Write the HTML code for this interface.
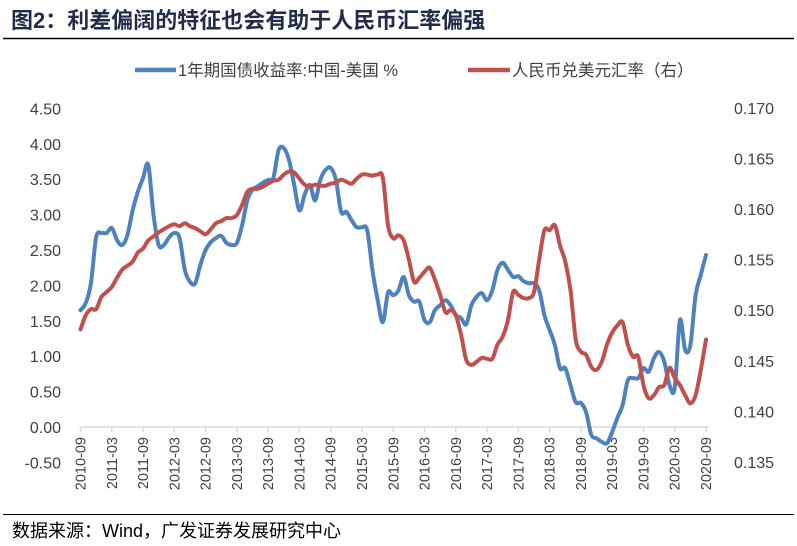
<!DOCTYPE html>
<html><head><meta charset="utf-8"><style>
body{margin:0;background:#fff;}
svg{display:block;font-family:"Liberation Sans","Noto Sans CJK SC",sans-serif;}
</style></head><body>
<svg id="chart" width="797" height="546" viewBox="0 0 797 546">
<text x="11" y="28" font-size="22" font-weight="bold" fill="#1f2d4a">图2：利差偏阔的特征也会有助于人民币汇率偏强</text>
<line x1="3" y1="38.5" x2="794" y2="38.5" stroke="#000" stroke-width="1.5"/>
<g>
<g><line x1="135" y1="70" x2="176" y2="70" stroke="#4f81bd" stroke-width="4.5"/><text x="178" y="76" font-size="16.5" fill="#404040">1年期国债收益率:中国-美国 %</text></g>
<g><line x1="468" y1="70" x2="510" y2="70" stroke="#c0504d" stroke-width="4.5"/><text x="512" y="76" font-size="16.5" fill="#404040">人民币兑美元汇率（右）</text></g>
</g>
<g id="axes"></g>
<g id="series"></g>
<line x1="3" y1="514.5" x2="794" y2="514.5" stroke="#000" stroke-width="1"/>
<text x="12" y="537" font-size="18" fill="#000">数据来源：Wind，广发证券发展研究中心</text>
</svg>
<script>
const xTickLabels=["2010-09","2011-03","2011-09","2012-03","2012-09","2013-03","2013-09","2014-03","2014-09","2015-03","2015-09","2016-03","2016-09","2017-03","2017-09","2018-03","2018-09","2019-03","2019-09","2020-03","2020-09"];
const leftTicks=[4.5,4,3.5,3,2.5,2,1.5,1,0.5,0,-0.5];
const rightTicks=[0.170,0.165,0.160,0.155,0.150,0.145,0.140,0.135];
const spreadValues=[1.65,1.75,2.03,2.68,2.74,2.74,2.81,2.64,2.57,2.71,3.06,3.32,3.52,3.70,3.0,2.57,2.57,2.68,2.74,2.67,2.22,2.05,2.03,2.29,2.5,2.61,2.67,2.7,2.6,2.57,2.6,2.85,3.2,3.35,3.4,3.45,3.49,3.52,3.91,3.94,3.77,3.42,3.06,3.28,3.42,3.2,3.49,3.63,3.66,3.49,3.04,3.04,2.92,2.82,2.82,2.78,2.22,1.8,1.48,1.9,1.86,1.93,2.12,1.86,1.77,1.77,1.51,1.48,1.65,1.72,1.79,1.72,1.58,1.54,1.45,1.72,1.84,1.89,1.79,1.93,2.22,2.32,2.22,2.12,2.13,2.06,2.03,2.03,1.93,1.58,1.37,1.16,0.83,0.83,0.59,0.35,0.34,0.21,-0.11,-0.16,-0.21,-0.23,-0.07,0.13,0.31,0.66,0.69,0.69,0.83,0.78,0.97,1.06,0.92,0.59,0.55,1.51,1.09,1.16,1.86,2.15,2.43];
const fxValues=[0.1481,0.1495,0.1501,0.1501,0.1513,0.1518,0.1523,0.1532,0.154,0.1544,0.1548,0.1557,0.1561,0.1569,0.1573,0.1577,0.158,0.1583,0.1585,0.1583,0.1586,0.1583,0.1581,0.1578,0.1575,0.158,0.1586,0.1588,0.1591,0.1591,0.1594,0.1604,0.1617,0.162,0.162,0.1622,0.1625,0.1628,0.1629,0.1634,0.1637,0.1636,0.163,0.1624,0.1622,0.1624,0.1623,0.1623,0.1625,0.1626,0.1629,0.1627,0.1625,0.163,0.1634,0.1634,0.1633,0.1634,0.1631,0.1584,0.1571,0.1574,0.1569,0.155,0.1528,0.1532,0.1538,0.1542,0.153,0.1515,0.1498,0.15,0.1495,0.1476,0.1451,0.1446,0.1449,0.1453,0.1452,0.1452,0.1466,0.1474,0.149,0.1518,0.1515,0.1512,0.1512,0.1518,0.155,0.1579,0.1579,0.1584,0.1564,0.1548,0.152,0.1471,0.1459,0.1456,0.1444,0.1441,0.1449,0.1466,0.1478,0.1485,0.1488,0.1466,0.1454,0.1454,0.1426,0.1413,0.1416,0.1424,0.1426,0.1443,0.1433,0.1426,0.1416,0.1408,0.1416,0.1441,0.1471];
const NS="http://www.w3.org/2000/svg";
const X0=80.5,X1=706,N=spreadValues.length-1;
const xOf=i=>X0+(X1-X0)*i/N;
const yL=v=>427-v*70.8;
const yR=v=>462-(v-0.135)*10120;
const axes=document.getElementById('axes'),series=document.getElementById('series');
function mk(tag,attrs,parent,txt){const e=document.createElementNS(NS,tag);for(const k in attrs)e.setAttribute(k,attrs[k]);if(txt!==undefined)e.textContent=txt;parent.appendChild(e);return e;}
leftTicks.forEach(v=>{const t=mk('text',{x:61,y:yL(v)+6,'font-size':16,'text-anchor':'end',fill:'#404040'},axes,v.toFixed(2));

});
rightTicks.forEach(v=>{const t=mk('text',{x:734,y:yR(v)+6,'font-size':16,fill:'#404040'},axes,v.toFixed(3));

});
const ax=mk('line',{x1:X0,y1:427,x2:X1+3,y2:427,stroke:'#d9d9d9','stroke-width':1.5},axes);


xTickLabels.forEach((lab,k)=>{const x=xOf(k*6);
const tk=mk('line',{x1:x,y1:427,x2:x,y2:432,stroke:'#d9d9d9','stroke-width':1.5},axes);


const t=mk('text',{x:x+5,y:437,'font-size':14.5,'text-anchor':'end',fill:'#404040',transform:`rotate(-90 ${x+5} 437)`},axes,lab);

});
function smooth(pts){let d=`M${pts[0][0]},${pts[0][1]}`;for(let i=0;i<pts.length-1;i++){const p0=pts[Math.max(0,i-1)],p1=pts[i],p2=pts[i+1],p3=pts[Math.min(pts.length-1,i+2)];
const c1=[p1[0]+(p2[0]-p0[0])/6,p1[1]+(p2[1]-p0[1])/6],c2=[p2[0]-(p3[0]-p1[0])/6,p2[1]-(p3[1]-p1[1])/6];
d+=`C${c1[0].toFixed(1)},${c1[1].toFixed(1)} ${c2[0].toFixed(1)},${c2[1].toFixed(1)} ${p2[0].toFixed(1)},${p2[1].toFixed(1)}`;}return d;}
const sp=mk('path',{d:smooth(spreadValues.map((v,i)=>[xOf(i),yL(v)])),fill:'none',stroke:'#4f81bd','stroke-width':4,'stroke-linejoin':'round','stroke-linecap':'round'},series);


const fx=mk('path',{d:smooth(fxValues.map((v,i)=>[xOf(i),yR(v)])),fill:'none',stroke:'#c0504d','stroke-width':4,'stroke-linejoin':'round','stroke-linecap':'round'},series);


</script>
</body></html>
